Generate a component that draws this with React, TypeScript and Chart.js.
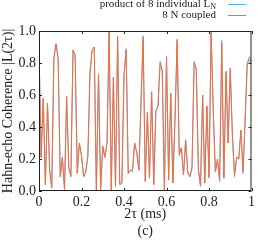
import React, { useEffect, useRef } from "react";
import { Chart, registerables } from "chart.js";

Chart.register(...registerables);

// Sample step of the 2τ axis (ms)
const STEP_MS = 0.01;

// 8 N coupled (orange)
const coupled = [
  0.90, 0.21, 0.58, 0.04, 0.55, 0.13, 0.02, 0.83, 0.92, 0.83,
  0.09, 0.21, 0.01, 0.59, 0.15, 0.09, 0.88, 0.85, 0.11, 0.30,
  0.22, 0.09, 0.12, 0.22, 0.74, 0.88, 0.90, 0.00, 0.73, 0.01,
  0.28, 0.21, 0.30, 1.00, 0.00, 0.71, 0.03, 0.96, 0.04, 0.05,
  0.72, 0.88, 0.11, 0.13, 0.13, 0.30, 0.24, 0.13, 0.55, 0.96,
  0.06, 0.49, 0.08, 0.62, 0.04, 0.50, 0.53, 0.80, 0.75, 0.00,
  0.84, 0.07, 0.61, 0.05, 0.45, 0.94, 0.23, 0.27, 0.10, 0.32,
  0.12, 0.09, 0.15, 0.80, 0.76, 0.14, 0.03, 0.60, 0.05, 0.53,
  0.09, 0.99, 0.50, 0.12, 0.20, 0.07, 0.92, 0.08, 0.74, 0.30,
  0.76, 0.35, 0.10, 0.21, 0.20, 0.38, 0.12, 0.45, 0.79, 0.82,
  0.80,
];

// product of 8 individual L_N (blue)
const product = [
  0.90, 0.21, 0.58, 0.04, 0.55, 0.13, 0.02, 0.83, 0.92, 0.83,
  0.09, 0.21, 0.01, 0.59, 0.15, 0.09, 0.88, 0.85, 0.11, 0.30,
  0.22, 0.09, 0.12, 0.22, 0.74, 0.88, 0.90, 0.00, 0.73, 0.01,
  0.28, 0.21, 0.30, 1.00, 0.00, 0.71, 0.03, 0.97, 0.04, 0.05,
  0.72, 0.89, 0.11, 0.13, 0.12, 0.30, 0.24, 0.13, 0.55, 0.97,
  0.06, 0.49, 0.08, 0.62, 0.04, 0.50, 0.53, 0.81, 0.75, 0.00,
  0.84, 0.07, 0.61, 0.05, 0.45, 0.95, 0.22, 0.27, 0.10, 0.32,
  0.11, 0.09, 0.14, 0.81, 0.76, 0.13, 0.03, 0.60, 0.05, 0.53,
  0.08, 1.00, 0.50, 0.12, 0.19, 0.06, 0.94, 0.08, 0.75, 0.30,
  0.77, 0.35, 0.09, 0.21, 0.20, 0.38, 0.11, 0.45, 0.80, 0.84,
  0.81,
];

const seriesLabels = ["product of 8 individual L_N", "8 N coupled"];
const seriesColors = ["#55b0ff", "#ff6a30"];
const yTitle = "Hahn-echo Coherence |L(2τ)|";
const xTitle = ["2τ (ms)", "(c)"];

const FONT = "'Liberation Serif', 'Times New Roman', serif";

const framePlugin = {
  id: "frame",
  afterDatasetsDraw(chart: any) {
    const { ctx, chartArea: a, scales } = chart;
    ctx.save();
    ctx.strokeStyle = "#222";
    ctx.lineWidth = 1;
    ctx.strokeRect(a.left + 0.5, a.top + 0.5, a.right - a.left - 1, a.bottom - a.top - 1);
    const tl = 3;
    ctx.beginPath();
    scales.x.ticks.forEach((t: any) => {
      const px = Math.round(scales.x.getPixelForValue(t.value)) + 0.5;
      ctx.moveTo(px, a.bottom);
      ctx.lineTo(px, a.bottom - tl);
      ctx.moveTo(px, a.top);
      ctx.lineTo(px, a.top + tl);
    });
    scales.y.ticks.forEach((t: any) => {
      const py = Math.round(scales.y.getPixelForValue(t.value)) + 0.5;
      ctx.moveTo(a.left, py);
      ctx.lineTo(a.left + tl, py);
      ctx.moveTo(a.right, py);
      ctx.lineTo(a.right - tl, py);
    });
    ctx.stroke();
    ctx.restore();
  },
  afterDraw(chart: any) {
    const { ctx } = chart;
    ctx.save();
    const textRight = 216;
    const lineX0 = 228;
    const lineX1 = 246;
    const ys = [4, 15];
    chart.data.datasets.forEach((ds: any, i: number) => {
      const y = ys[i];
      const [main, sub] = String(ds.label).split("_");
      ctx.fillStyle = "#222";
      ctx.textBaseline = "middle";
      let subW = 0;
      if (sub) {
        ctx.font = `8px ${FONT}`;
        subW = ctx.measureText(sub).width;
        ctx.textAlign = "left";
        ctx.fillText(sub, textRight - subW, y + 3);
      }
      ctx.font = `11px ${FONT}`;
      ctx.textAlign = "right";
      ctx.fillText(main, textRight - subW, y);
      ctx.strokeStyle = ds.borderColor;
      ctx.lineWidth = 1;
      ctx.beginPath();
      ctx.moveTo(lineX0, Math.round(y) + 0.5);
      ctx.lineTo(lineX1, Math.round(y) + 0.5);
      ctx.stroke();
    });
    ctx.restore();
  },
};

export default function App() {
  const ref = useRef<HTMLCanvasElement | null>(null);

  useEffect(() => {
    document.body.style.margin = "0";
    if (!ref.current) return;
    const toPts = (arr: number[]) => arr.map((v, i) => ({ x: i * STEP_MS, y: v }));
    const chart = new Chart(ref.current, {
      type: "line",
      data: {
        datasets: [
          {
            label: seriesLabels[0],
            data: toPts(product),
            borderColor: seriesColors[0],
            borderWidth: 1,
            pointRadius: 0,
            tension: 0,
            fill: false,
            order: 2,
          },
          {
            label: seriesLabels[1],
            data: toPts(coupled),
            borderColor: seriesColors[1],
            borderWidth: 1,
            pointRadius: 0,
            tension: 0,
            fill: false,
            order: 1,
          },
        ],
      },
      options: {
        animation: false,
        responsive: false,
        maintainAspectRatio: false,
        layout: { padding: { top: 31, right: 3, left: 0, bottom: 0 } },
        plugins: { legend: { display: false }, tooltip: { enabled: false } },
        scales: {
          x: {
            type: "linear",
            min: 0,
            max: 1,
            border: { display: false },
            grid: { display: false, drawTicks: false },
            ticks: {
              stepSize: 0.2,
              padding: 3,
              color: "#222",
              font: { family: FONT, size: 14 },
              maxRotation: 0,
              callback: (v: any) => {
                const n = Number(v);
                return Math.abs(n) < 1e-9 ? "0" : Math.abs(n - 1) < 1e-9 ? "1" : n.toFixed(1);
              },
            },
            title: {
              display: true,
              text: xTitle,
              color: "#222",
              font: { family: FONT, size: 14, lineHeight: "17px" } as any,
              padding: { top: 0, bottom: 0 },
            },
            afterFit(scale: any) {
              scale.height = 49;
            },
          },
          y: {
            min: 0,
            max: 1,
            border: { display: false },
            grid: { display: false, drawTicks: false },
            ticks: {
              stepSize: 0.2,
              padding: 3,
              color: "#222",
              font: { family: FONT, size: 14 },
              callback: (v: any) => Number(v).toFixed(1),
            },
            title: {
              display: true,
              text: yTitle,
              color: "#222",
              font: { family: FONT, size: 14 },
              padding: { top: 0, bottom: 0 },
            },
            afterFit(scale: any) {
              scale.width = 39;
            },
          },
        },
      },
      plugins: [framePlugin],
    });
    return () => chart.destroy();
  }, []);

  return (
    <div style={{ width: 258, height: 240 }}>
      <canvas ref={ref} width={258} height={240} style={{ display: "block", width: 258, height: 240 }} />
    </div>
  );
}
